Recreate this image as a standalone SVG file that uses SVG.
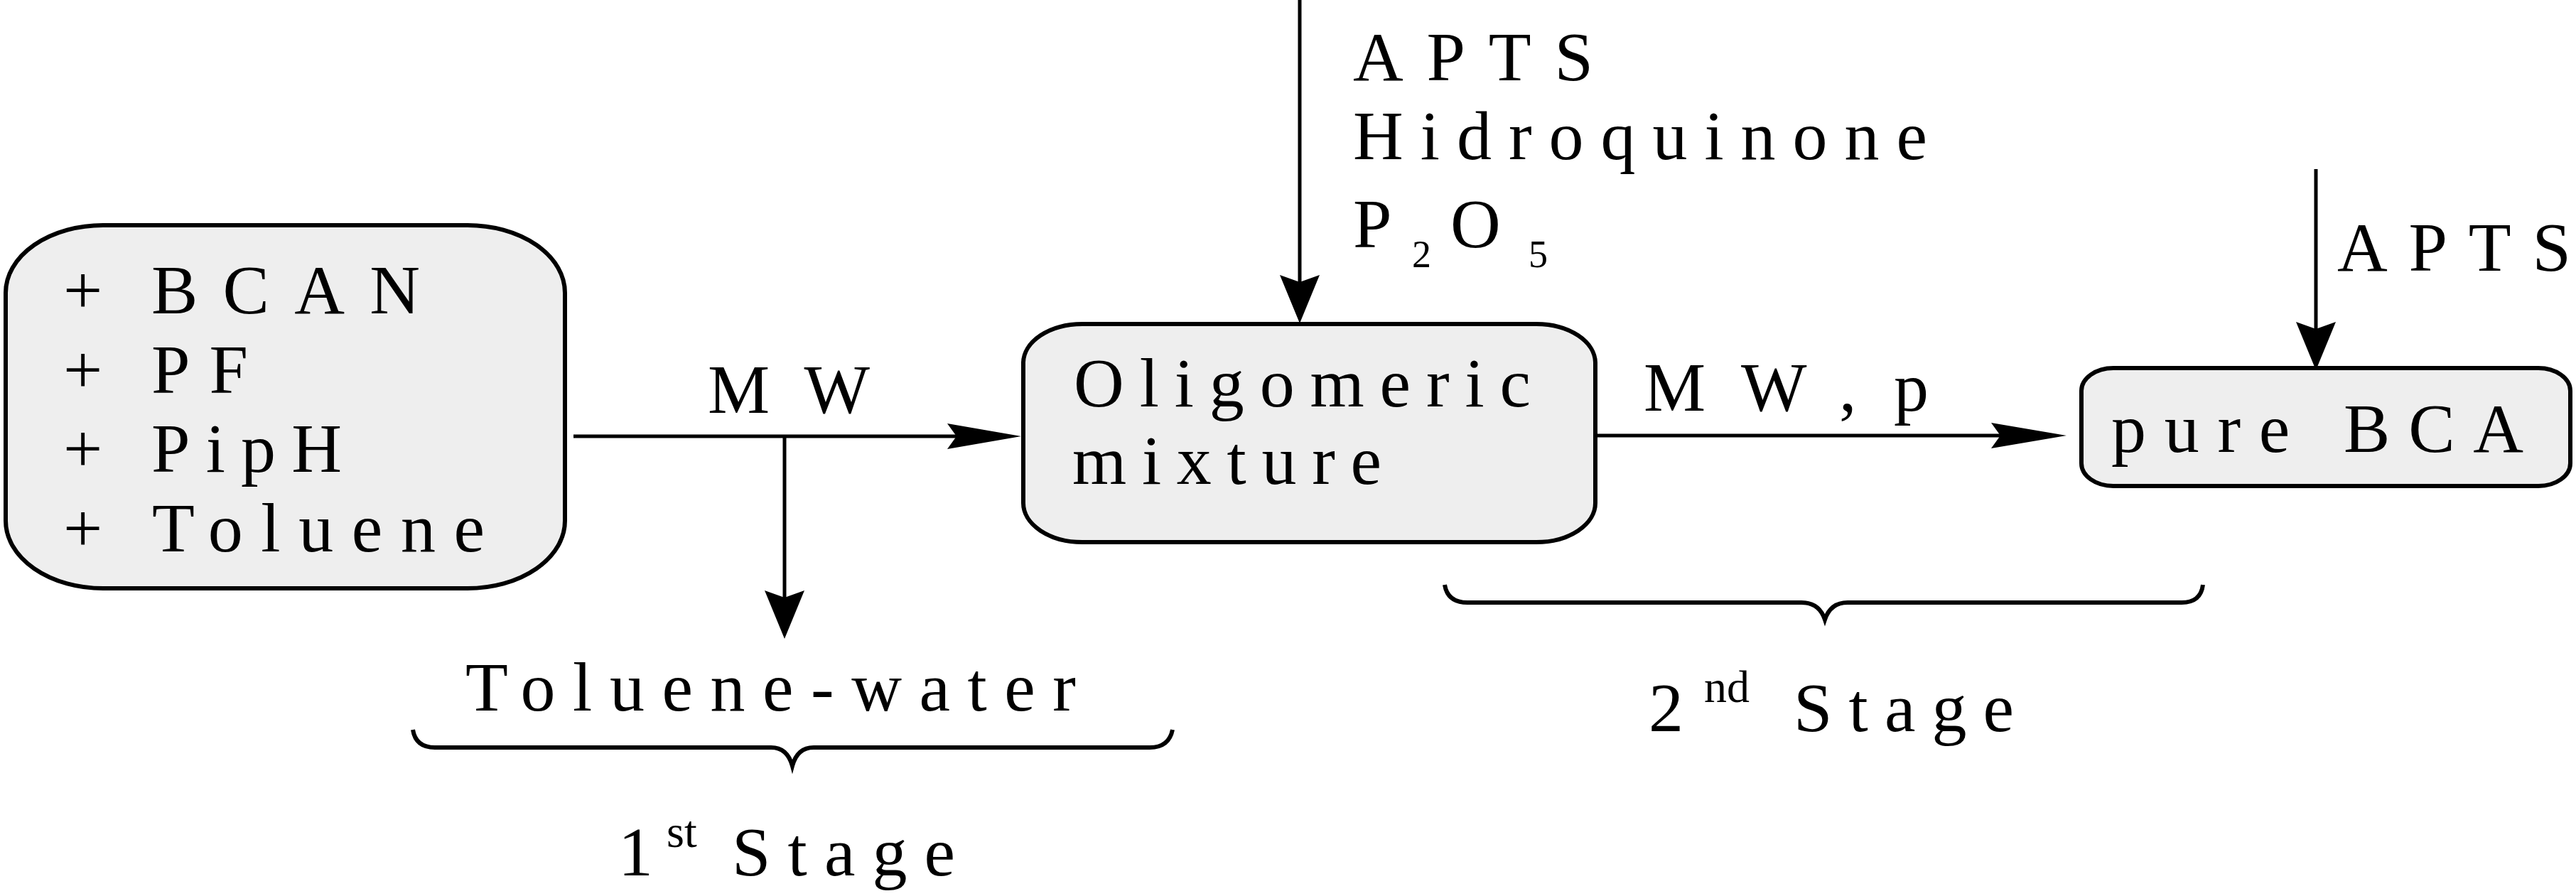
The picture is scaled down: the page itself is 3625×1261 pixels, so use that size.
<svg xmlns="http://www.w3.org/2000/svg" width="3625" height="1261" viewBox="0 0 3625 1261" font-family="Liberation Serif, serif">
<style>
text, tspan { font-family: 'Liberation Serif', 'DejaVu Serif', serif; font-size: 98px; fill: #000; }
tspan.sub { font-size: 54px; }
tspan.sup { font-size: 64px; }
.box { fill: #eeeeee; stroke: #000; stroke-width: 6; }
.ln { stroke: #000; stroke-width: 5; fill: none; }
.head { fill: #000; }
.brace { fill: none; stroke: #000; stroke-width: 6; }
</style>
<rect width="3625" height="1261" fill="#fff"/>
<g id="connectors">
<line class="ln" x1="807" y1="614" x2="1350" y2="614"/>
<polygon class="head" points="1437,614 1333,596 1346,614 1333,632"/>
<line class="ln" x1="1104" y1="614" x2="1104" y2="845"/>
<polygon class="head" points="1104,899 1076,831 1104,841 1132,831"/>
<line class="ln" x1="1829" y1="0" x2="1829" y2="400"/>
<polygon class="head" points="1829,455 1801,387 1829,397 1857,387"/>
<line class="ln" x1="2245" y1="613" x2="2820" y2="613"/>
<polygon class="head" points="2908,613 2802,595 2815,613 2802,631"/>
<line class="ln" x1="3259" y1="238" x2="3259" y2="466"/>
<polygon class="head" points="3259,521 3231,453 3259,463 3287,453"/>
<text x="996" y="581" textLength="228" lengthAdjust="spacing">MW</text>
<text y="578"><tspan x="2313">M</tspan><tspan x="2450">W</tspan><tspan x="2588">,</tspan><tspan x="2665">p</tspan></text>
<text x="1904" y="113" textLength="338" lengthAdjust="spacing">APTS</text>
<text x="1904" y="224" textLength="808" lengthAdjust="spacing">Hidroquinone</text>
<text y="348"><tspan x="1904">P</tspan><tspan class="sub" x="1987" y="376">2</tspan><tspan x="2041" y="348">O</tspan><tspan class="sub" x="2151" y="376">5</tspan></text>
<text x="3289" y="381" textLength="329" lengthAdjust="spacing">APTS</text>
</g>
<g id="node-reactants">
<rect class="box" x="8" y="317" width="787" height="511" rx="137" ry="95"/>
<text y="441"><tspan x="89">+</tspan><tspan x="213" textLength="378" lengthAdjust="spacing">BCAN</tspan></text>
<text y="553"><tspan x="89">+</tspan><tspan x="213" textLength="136" lengthAdjust="spacing">PF</tspan></text>
<text y="664"><tspan x="89">+</tspan><tspan x="213" textLength="268" lengthAdjust="spacing">PipH</tspan></text>
<text y="776"><tspan x="89">+</tspan><tspan x="214" textLength="468" lengthAdjust="spacing">Toluene</tspan></text>
</g>
<g id="node-oligomeric">
<rect class="box" x="1440" y="456" width="805" height="307" rx="83" ry="55"/>
<text x="1511" y="572" textLength="643" lengthAdjust="spacing">Oligomeric</text>
<text x="1509" y="681" textLength="435" lengthAdjust="spacing">mixture</text>
</g>
<g id="node-pure">
<rect class="box" x="2929" y="518" width="688" height="166" rx="45" ry="32"/>
<text x="2971" y="636" textLength="580" lengthAdjust="spacing">pure BCA</text>
</g>
<g id="node-stage1">
<text x="655" y="1000" textLength="859" lengthAdjust="spacing">Toluene-water</text>
<path class="brace" d="M581,1027 Q585,1052 612,1052 L1085,1052 Q1108,1052 1115,1078 Q1122,1052 1145,1052 L1618,1052 Q1645,1052 1650,1027"/>
<text y="1232"><tspan x="870">1</tspan><tspan class="sup" x="938" y="1192">st</tspan><tspan x="1030" y="1232" textLength="314" lengthAdjust="spacing">Stage</tspan></text>
</g>
<g id="node-stage2">
<path class="brace" d="M2033,823 Q2037,848 2065,848 L2535,848 Q2560,848 2568,872 Q2576,848 2600,848 L3070,848 Q3097,848 3100,823"/>
<text y="1029"><tspan x="2320">2</tspan><tspan class="sup" x="2398" y="988">nd</tspan><tspan x="2524" y="1029" textLength="310" lengthAdjust="spacing">Stage</tspan></text>
</g>
</svg>
